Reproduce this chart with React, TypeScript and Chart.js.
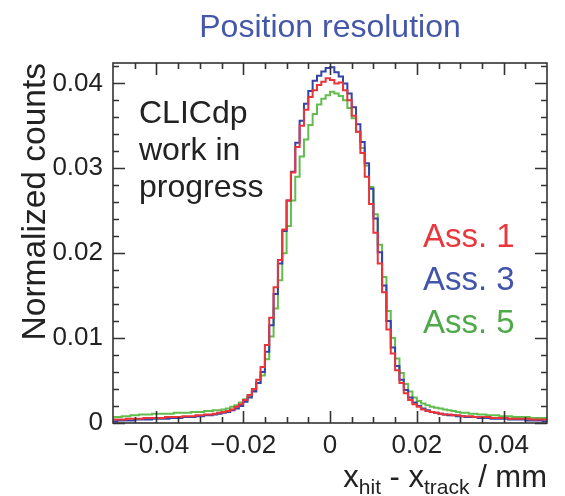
import React, { useEffect, useRef } from "react";
import { Chart, registerables } from "chart.js";

Chart.register(...registerables);

// Histogram binning (bin lower edge and width, in mm)
const BIN_LOW = -0.05;
const BIN_WIDTH = 0.001;

// Normalized counts per bin, from x = -0.05 to 0.05 mm (100 bins)
const ASS1 = [
  0.0004, 0.0004, 0.0004, 0.0005, 0.0005, 0.0005, 0.0005, 0.0006, 0.0006, 0.0006,
  0.0006, 0.0006, 0.0007, 0.0007, 0.0007, 0.0007, 0.0008, 0.0008, 0.0008, 0.0009,
  0.0009, 0.0010, 0.0010, 0.0011, 0.0012, 0.0013, 0.0014, 0.0016, 0.0019, 0.0022,
  0.0027, 0.0033, 0.0040, 0.0051, 0.0066, 0.0092, 0.0124, 0.0160, 0.0192, 0.0228,
  0.0262, 0.0295, 0.0325, 0.0350, 0.0369, 0.0384, 0.0392, 0.0398, 0.0402, 0.0406,
  0.0404, 0.0400, 0.0401, 0.0392, 0.0380, 0.0362, 0.0343, 0.0318, 0.0290, 0.0258,
  0.0224, 0.0188, 0.0154, 0.0110, 0.0082, 0.0062, 0.0047, 0.0035, 0.0027, 0.0022,
  0.0019, 0.0016, 0.0014, 0.0013, 0.0012, 0.0011, 0.0010, 0.0010, 0.0009, 0.0009,
  0.0008, 0.0008, 0.0008, 0.0007, 0.0007, 0.0007, 0.0007, 0.0006, 0.0006, 0.0006,
  0.0006, 0.0005, 0.0005, 0.0005, 0.0005, 0.0005, 0.0004, 0.0004, 0.0004, 0.0004,
];

const ASS3 = [
  0.0002, 0.0003, 0.0003, 0.0003, 0.0003, 0.0004, 0.0004, 0.0004, 0.0004, 0.0005,
  0.0005, 0.0005, 0.0005, 0.0006, 0.0006, 0.0006, 0.0007, 0.0007, 0.0007, 0.0008,
  0.0008, 0.0009, 0.0009, 0.0010, 0.0011, 0.0012, 0.0013, 0.0015, 0.0017, 0.0020,
  0.0025, 0.0030, 0.0037, 0.0047, 0.0060, 0.0084, 0.0115, 0.0152, 0.0188, 0.0226,
  0.0262, 0.0296, 0.0330, 0.0356, 0.0376, 0.0391, 0.0403, 0.0409, 0.0414, 0.0418,
  0.0419, 0.0413, 0.0408, 0.0400, 0.0388, 0.0372, 0.0352, 0.0331, 0.0306, 0.0276,
  0.0241, 0.0201, 0.0162, 0.0120, 0.0089, 0.0067, 0.0051, 0.0039, 0.0030, 0.0024,
  0.0020, 0.0017, 0.0015, 0.0013, 0.0012, 0.0011, 0.0010, 0.0009, 0.0009, 0.0008,
  0.0008, 0.0007, 0.0007, 0.0007, 0.0006, 0.0006, 0.0006, 0.0005, 0.0005, 0.0005,
  0.0005, 0.0004, 0.0004, 0.0004, 0.0004, 0.0003, 0.0003, 0.0003, 0.0003, 0.0002,
];

const ASS5 = [
  0.0007, 0.0007, 0.0008, 0.0008, 0.0009, 0.0009, 0.0010, 0.0010, 0.0010, 0.0011,
  0.0011, 0.0011, 0.0011, 0.0011, 0.0012, 0.0012, 0.0012, 0.0012, 0.0013, 0.0013,
  0.0013, 0.0014, 0.0014, 0.0015, 0.0015, 0.0016, 0.0017, 0.0019, 0.0021, 0.0024,
  0.0028, 0.0032, 0.0038, 0.0047, 0.0056, 0.0075, 0.0102, 0.0135, 0.0168, 0.0200,
  0.0232, 0.0262, 0.0290, 0.0314, 0.0334, 0.0351, 0.0364, 0.0375, 0.0382, 0.0386,
  0.0390, 0.0388, 0.0385, 0.0380, 0.0371, 0.0359, 0.0343, 0.0324, 0.0303, 0.0278,
  0.0246, 0.0210, 0.0172, 0.0132, 0.0100, 0.0076, 0.0059, 0.0046, 0.0037, 0.0030,
  0.0026, 0.0023, 0.0021, 0.0019, 0.0018, 0.0017, 0.0016, 0.0015, 0.0014, 0.0013,
  0.0012, 0.0012, 0.0011, 0.0011, 0.0010, 0.0010, 0.0009, 0.0009, 0.0009, 0.0008,
  0.0008, 0.0008, 0.0007, 0.0007, 0.0007, 0.0007, 0.0006, 0.0006, 0.0006, 0.0006,
];

const SERIES = [ASS1, ASS3, ASS5];
const SERIES_NAMES = ["Ass. 1", "Ass. 3", "Ass. 5"];
const LINE_COLORS = ["#e8343a", "#3343a8", "#62bd4e"];
const LEGEND_COLORS = ["#e8383e", "#4354ab", "#4fa948"];

const X_MIN = -0.05;
const X_MAX = 0.05;
const Y_MIN = 0;
const Y_MAX = 0.0424;

const X_TICKS = [-0.04, -0.02, 0, 0.02, 0.04];
const X_TICK_LABELS = ["\u22120.04", "\u22120.02", "0", "0.02", "0.04"];
const X_MINOR_TICKS = [
  -0.045, -0.04, -0.035, -0.03, -0.025, -0.02, -0.015, -0.01, -0.005, 0,
  0.005, 0.01, 0.015, 0.02, 0.025, 0.03, 0.035, 0.04, 0.045,
];
const Y_TICKS = [0, 0.01, 0.02, 0.03, 0.04];
const Y_TICK_LABELS = ["0", "0.01", "0.02", "0.03", "0.04"];
const Y_MINOR_TICKS = [
  0.002, 0.004, 0.006, 0.008, 0.012, 0.014, 0.016, 0.018, 0.022, 0.024,
  0.026, 0.028, 0.032, 0.034, 0.036, 0.038, 0.042,
];

const TITLE = "Position resolution";
const Y_TITLE = "Normalized counts";
const X_TITLE_PARTS: [string, boolean][] = [
  ["x", false],
  ["hit", true],
  [" - x", false],
  ["track", true],
  [" / mm", false],
];
const LABEL_LINES = ["CLICdp", "work in", "progress"];

const FONT = "'Liberation Sans', Arial, Helvetica, sans-serif";

const decorPlugin = {
  id: "decor",
  afterDatasetsDraw(chart: any) {
    const { ctx, chartArea: a, scales } = chart;
    const xs = scales.x;
    const ys = scales.y;
    ctx.save();
    // frame
    ctx.strokeStyle = "#333";
    ctx.lineWidth = 1.6;
    ctx.strokeRect(a.left, a.top, a.right - a.left, a.bottom - a.top);
    // ticks
    ctx.beginPath();
    const major = 12;
    const minor = 6;
    for (const v of X_MINOR_TICKS) {
      const isMajor = X_TICKS.some((t) => Math.abs(t - v) < 1e-9);
      const len = isMajor ? major : minor;
      const px = Math.round(xs.getPixelForValue(v)) + 0.5;
      ctx.moveTo(px, a.bottom);
      ctx.lineTo(px, a.bottom - len);
      ctx.moveTo(px, a.top);
      ctx.lineTo(px, a.top + len);
    }
    const allY = [...Y_TICKS, ...Y_MINOR_TICKS];
    for (const v of allY) {
      const isMajor = Y_TICKS.includes(v);
      const len = isMajor ? major : minor;
      const py = Math.round(ys.getPixelForValue(v)) + 0.5;
      ctx.moveTo(a.left, py);
      ctx.lineTo(a.left + len, py);
      ctx.moveTo(a.right, py);
      ctx.lineTo(a.right - len, py);
    }
    ctx.stroke();

    // title
    ctx.fillStyle = "#4557a8";
    ctx.font = `32px ${FONT}`;
    ctx.textAlign = "center";
    ctx.textBaseline = "alphabetic";
    ctx.fillText(TITLE, (a.left + a.right) / 2, 37);

    // CLICdp label
    ctx.fillStyle = "#222";
    ctx.font = `32px ${FONT}`;
    ctx.textAlign = "left";
    LABEL_LINES.forEach((line, i) => {
      ctx.fillText(line, 139, 123 + i * 37);
    });

    // legend
    ctx.font = `33px ${FONT}`;
    SERIES_NAMES.forEach((name, i) => {
      ctx.fillStyle = LEGEND_COLORS[i];
      ctx.fillText(name, 423, 247 + i * 43);
    });

    // y title
    ctx.save();
    ctx.fillStyle = "#222";
    ctx.font = `33.5px ${FONT}`;
    ctx.translate(45, a.top);
    ctx.rotate(-Math.PI / 2);
    ctx.textAlign = "right";
    ctx.fillText(Y_TITLE, 0, 0);
    ctx.restore();

    // x title with subscripts, right aligned to frame
    ctx.fillStyle = "#222";
    ctx.textAlign = "left";
    const mainFont = `31px ${FONT}`;
    const subFont = `21px ${FONT}`;
    let total = 0;
    for (const [t, sub] of X_TITLE_PARTS) {
      ctx.font = sub ? subFont : mainFont;
      total += ctx.measureText(t).width;
    }
    let cx = a.right - total;
    for (const [t, sub] of X_TITLE_PARTS) {
      ctx.font = sub ? subFont : mainFont;
      ctx.fillText(t, cx, sub ? 494 : 487);
      cx += ctx.measureText(t).width;
    }
    ctx.restore();
  },
};

export default function App() {
  const ref = useRef<HTMLCanvasElement | null>(null);
  useEffect(() => {
    if (!ref.current) return;
    const datasets = SERIES.map((vals, si) => {
      const pts = vals.map((v, i) => ({ x: BIN_LOW + i * BIN_WIDTH, y: v }));
      pts.push({ x: BIN_LOW + vals.length * BIN_WIDTH, y: vals[vals.length - 1] });
      return {
        label: SERIES_NAMES[si],
        data: pts,
        borderColor: LINE_COLORS[si],
        borderWidth: 2,
        pointRadius: 0,
        fill: false,
        stepped: true as const,
        tension: 0,
      };
    });
    const chart = new Chart(ref.current, {
      type: "line",
      data: { datasets },
      options: {
        responsive: false,
        animation: false,
        devicePixelRatio: 1,
        layout: { padding: { left: 0, right: 18, top: 63, bottom: 0 } },
        plugins: {
          legend: { display: false },
          title: { display: false },
          tooltip: { enabled: false },
        },
        scales: {
          x: {
            type: "linear",
            min: X_MIN,
            max: X_MAX,
            grid: { display: false, drawTicks: false },
            border: { display: false },
            afterFit: (s: any) => {
              s.height = 73;
            },
            afterBuildTicks: (s: any) => {
              s.ticks = X_TICKS.map((v) => ({ value: v }));
            },
            ticks: {
              autoSkip: false,
              maxRotation: 0,
              padding: 7,
              color: "#222",
              font: { family: FONT, size: 26 },
              callback: (_v: any, i: number) => X_TICK_LABELS[i],
            },
          },
          y: {
            type: "linear",
            min: Y_MIN,
            max: Y_MAX,
            grid: { display: false, drawTicks: false },
            border: { display: false },
            afterFit: (s: any) => {
              s.width = 113;
            },
            afterBuildTicks: (s: any) => {
              s.ticks = Y_TICKS.map((v) => ({ value: v }));
            },
            ticks: {
              autoSkip: false,
              padding: 10,
              color: "#222",
              font: { family: FONT, size: 26 },
              callback: (_v: any, i: number) => Y_TICK_LABELS[i],
            },
          },
        },
      },
      plugins: [decorPlugin],
    });
    return () => chart.destroy();
  }, []);
  return (
    <div style={{ position: "absolute", left: 0, top: 0, width: 565, height: 496, background: "#fff" }}>
      <canvas ref={ref} width={565} height={496} style={{ display: "block", width: 565, height: 496 }} />
    </div>
  );
}
